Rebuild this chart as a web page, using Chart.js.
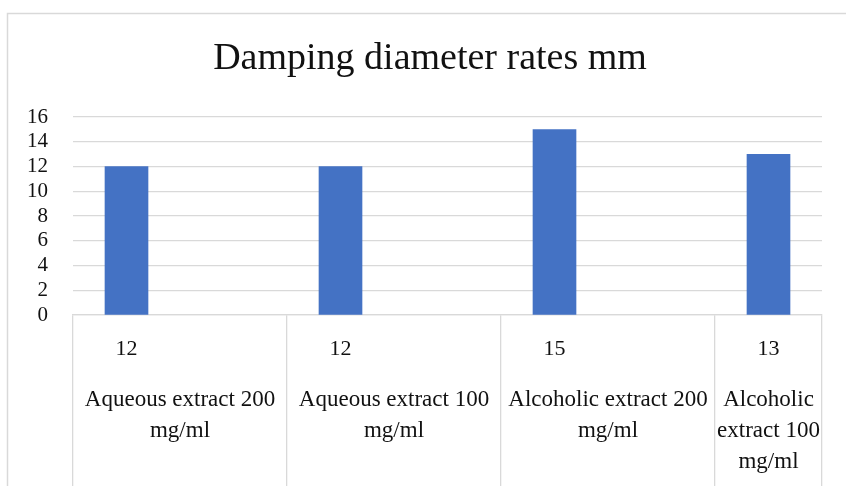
<!DOCTYPE html>
<html>
<head>
<meta charset="utf-8">
<script src="https://cdn.jsdelivr.net/npm/chart.js@4/dist/chart.umd.min.js"></script>
<style>
  html, body { margin: 0; padding: 0; background: #ffffff; }
  canvas { display: block; }
</style>
</head>
<body>
<canvas id="chart" width="846" height="486"></canvas>
<script>
// ---- data ----
const chartTitle = 'Damping diameter rates mm';
const categories = [
  'Aqueous extract 200 mg/ml',
  'Aqueous extract 100 mg/ml',
  'Alcoholic extract 200 mg/ml',
  'Alcoholic extract 100 mg/ml'
];
const values = [12, 12, 15, 13];
const yTickValues = [0, 2, 4, 6, 8, 10, 12, 14, 16];

// ---- styles ----
const FONT = "'Liberation Serif', 'Times New Roman', serif";
const GRID = '#d9d9d9';
const BAR = '#4472c4';
const TEXT = '#111111';

// bar sits in the left half of each table column
const points = values.map((v, i) => ({ x: i + 0.25, y: v }));
const columnBounds = categories.map((c, i) => i).concat([categories.length - 0.5]);

const framePlugin = {
  id: 'frame',
  beforeDraw(chart) {
    const ctx = chart.ctx;
    ctx.save();
    ctx.fillStyle = '#ffffff';
    ctx.fillRect(0, 0, chart.width, chart.height);
    ctx.strokeStyle = GRID;
    ctx.lineWidth = 1.5;
    ctx.strokeRect(7.5, 13.5, chart.width + 50, chart.height + 50);
    ctx.restore();
  }
};

function wrapText(ctx, text, maxWidth) {
  const words = text.split(' ');
  const lines = [];
  let line = '';
  words.forEach(w => {
    const test = line ? line + ' ' + w : w;
    if (ctx.measureText(test).width > maxWidth && line) {
      lines.push(line);
      line = w;
    } else {
      line = test;
    }
  });
  if (line) lines.push(line);
  return lines;
}

const tablePlugin = {
  id: 'dataTable',
  afterDraw(chart) {
    const ctx = chart.ctx;
    const xs = chart.scales.x;
    const base = chart.chartArea.bottom;
    ctx.save();
    ctx.fillStyle = TEXT;
    ctx.textAlign = 'center';
    ctx.textBaseline = 'alphabetic';
    categories.forEach((cat, i) => {
      const left = xs.getPixelForValue(columnBounds[i]);
      const right = xs.getPixelForValue(columnBounds[i + 1]);
      const barX = xs.getPixelForValue(points[i].x);
      ctx.font = '22px ' + FONT;
      ctx.fillText(String(values[i]), barX, base + 40);
      ctx.font = '23px ' + FONT;
      const lines = wrapText(ctx, cat, right - left - 2);
      const cx = (left + right) / 2;
      lines.forEach((ln, k) => ctx.fillText(ln, cx, base + 91 + k * 31));
    });
    ctx.restore();
  }
};

new Chart(document.getElementById('chart'), {
  type: 'bar',
  data: {
    datasets: [{
      label: chartTitle,
      data: points,
      backgroundColor: BAR,
      borderColor: BAR,
      borderWidth: 0,
      barThickness: 43
    }]
  },
  options: {
    responsive: false,
    animation: false,
    devicePixelRatio: 1,
    layout: { padding: { left: 14, right: 0, top: 0, bottom: 0 } },
    plugins: {
      legend: { display: false },
      tooltip: { enabled: false },
      title: {
        display: true,
        text: chartTitle,
        color: TEXT,
        font: { family: FONT, size: 38, weight: 'normal', lineHeight: 1.2 },
        padding: { top: 36, bottom: 35.5 }
      }
    },
    scales: {
      x: {
        type: 'linear',
        offset: false,
        min: 0,
        max: categories.length - 0.5,
        afterBuildTicks(scale) {
          scale.ticks = columnBounds.map(v => ({ value: v }));
        },
        ticks: { display: false },
        grid: {
          offset: false,
          drawOnChartArea: false,
          drawTicks: true,
          tickLength: 171,
          color: GRID,
          lineWidth: 1.3
        },
        border: { display: true, color: GRID, width: 1.3 }
      },
      y: {
        position: 'left',
        min: 0,
        max: 16,
        afterBuildTicks(scale) {
          scale.ticks = yTickValues.map(v => ({ value: v }));
        },
        afterFit(scale) { scale.width = 59; },
        ticks: {
          color: TEXT,
          padding: 25,
          autoSkip: false,
          font: { family: FONT, size: 21 }
        },
        grid: { color: GRID, lineWidth: 1.3, drawTicks: false },
        border: { display: false }
      },
      yRightMargin: {
        type: 'linear',
        position: 'right',
        display: true,
        afterFit(scale) { scale.width = 24; },
        ticks: { display: false },
        grid: { drawOnChartArea: false, drawTicks: false },
        border: { display: false }
      }
    }
  },
  plugins: [framePlugin, tablePlugin]
});
</script>
</body>
</html>
